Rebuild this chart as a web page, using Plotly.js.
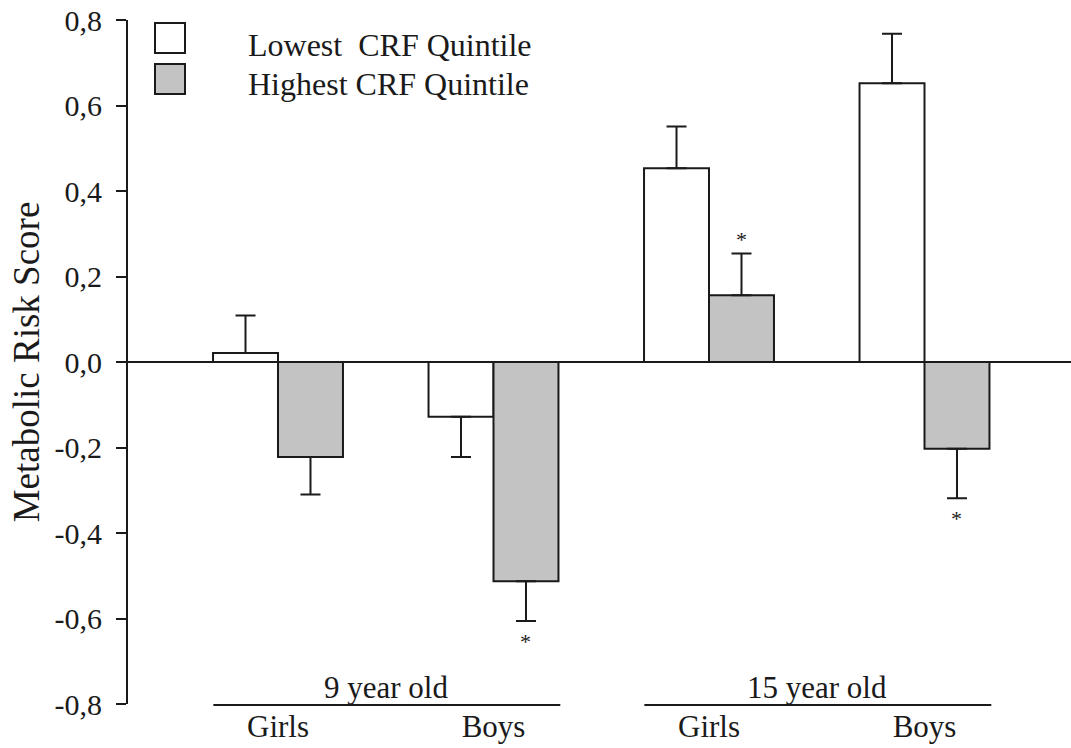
<!DOCTYPE html>
<html>
<head>
<meta charset="utf-8">
<script src="https://cdn.plot.ly/plotly-3.0.1.min.js"></script>
<style>html,body{margin:0;padding:0;background:#fff;}#chart{width:1071px;height:748px;}</style>
</head>
<body>
<div id="chart"></div>
<script>
// ---- data ----
const ageGroups = ['9 year old', '15 year old'];
const sexLabels = ['Girls', 'Boys', 'Girls', 'Boys'];
const ageOfBar = [0, 0, 1, 1];
const seriesNames = ['Lowest  CRF Quintile', 'Highest CRF Quintile'];
const lowestCRF = [0.021, -0.128, 0.453, 0.652];
const lowestSE = [0.088, 0.094, 0.098, 0.116];
const highestCRF = [-0.222, -0.513, 0.156, -0.203];
const highestSE = [0.088, 0.093, 0.098, 0.116];
const highestSig = [false, true, true, true];
const yTickVals = [-0.8, -0.6, -0.4, -0.2, 0.0, 0.2, 0.4, 0.6, 0.8];
const yTickText = ['-0,8', '-0,6', '-0,4', '-0,2', '0,0', '0,2', '0,4', '0,6', '0,8'];

// ---- layout geometry ----
const W = 1071, H = 748;
const M = {l: 128, r: 0, t: 20, b: 44};
const plotW = W - M.l - M.r, plotH = H - M.t - M.b;
const px2x = p => (p - M.l) / plotW;
const px2y = p => (H - M.b - p) / plotH;
const FONT = '"Liberation Serif", "Times New Roman", Times, serif';
const INK = '#1a1a1a';
const BARGAP = 0.397;

const xIdx = sexLabels.map((_, i) => i);
const upOnly = (vals, se) => vals.map((v, i) => v >= 0 ? se[i] : 0);
const downOnly = (vals, se) => vals.map((v, i) => v < 0 ? se[i] : 0);

const errStyle = (vals, se) => ({
  type: 'data', symmetric: false,
  array: upOnly(vals, se), arrayminus: downOnly(vals, se),
  color: INK, thickness: 2, width: 10
});

const traces = [
  {
    type: 'bar', name: seriesNames[0], x: xIdx, y: lowestCRF,
    marker: {color: '#ffffff', line: {color: INK, width: 2}},
    error_y: errStyle(lowestCRF, lowestSE), showlegend: false
  },
  {
    type: 'bar', name: seriesNames[1], x: xIdx, y: highestCRF,
    marker: {color: '#c3c3c3', line: {color: INK, width: 2}},
    error_y: errStyle(highestCRF, highestSE), showlegend: false
  }
];

const annotations = [];
const shapes = [];
const barOffset = (1 - BARGAP) / 4;

// significance asterisks
highestCRF.forEach((v, i) => {
  if (!highestSig[i]) return;
  const up = v >= 0;
  annotations.push({
    x: i + barOffset, xref: 'x', y: v + (up ? 1 : -1) * highestSE[i], yref: 'y',
    text: '*', showarrow: false, yanchor: 'middle', yshift: up ? 14 : -20,
    font: {family: FONT, size: 22, color: INK}
  });
});

// age group labels and underlines
ageGroups.forEach((g, gi) => {
  const idx = xIdx.filter(i => ageOfBar[i] === gi);
  const first = Math.min(...idx), last = Math.max(...idx);
  annotations.push({
    x: (first + last) / 2, xref: 'x', y: px2y(687), yref: 'paper',
    text: g, showarrow: false, xanchor: 'center', yanchor: 'middle',
    font: {family: FONT, size: 31, color: INK}
  });
  shapes.push({
    type: 'line', xref: 'x', yref: 'paper',
    x0: first - 0.30, x1: last + 0.31, y0: px2y(705), y1: px2y(705),
    line: {color: INK, width: 2}
  });
});

// manual legend
const legendFill = ['#ffffff', '#c3c3c3'];
const legendRows = [{top: 23, mid: 45}, {top: 64, mid: 84}];
seriesNames.forEach((n, k) => {
  const r = legendRows[k];
  shapes.push({
    type: 'rect', xref: 'paper', yref: 'paper',
    x0: px2x(155), x1: px2x(185), y0: px2y(r.top + 30), y1: px2y(r.top),
    fillcolor: legendFill[k], line: {color: INK, width: 2}
  });
  annotations.push({
    x: px2x(246), xref: 'paper', y: px2y(r.mid), yref: 'paper',
    text: n.replace(/  /g, '&nbsp; '), showarrow: false, xanchor: 'left', yanchor: 'middle',
    font: {family: FONT, size: 32, color: INK}
  });
});

// x range so that category centres are 215.5 px apart, first at 278 px
const catPx = 215.5, firstPx = 278;

const layout = {
  width: W, height: H,
  margin: M,
  paper_bgcolor: '#ffffff', plot_bgcolor: '#ffffff',
  font: {family: FONT, color: INK},
  barmode: 'group', bargap: BARGAP, bargroupgap: 0,
  showlegend: false,
  xaxis: {
    range: [(M.l - firstPx) / catPx, (W - M.r - firstPx) / catPx],
    tickvals: xIdx, ticktext: sexLabels,
    showline: false, showgrid: false, zeroline: false, ticks: '',
    tickfont: {family: FONT, size: 31, color: INK},
    ticklabelstandoff: 1, fixedrange: true
  },
  yaxis: {
    range: [-0.8, 0.8],
    tickvals: yTickVals, ticktext: yTickText,
    showline: true, linecolor: INK, linewidth: 2,
    ticks: 'outside', ticklen: 10, tickwidth: 2, tickcolor: INK,
    showgrid: false,
    zeroline: true, zerolinecolor: INK, zerolinewidth: 2,
    tickfont: {family: FONT, size: 30, color: INK},
    ticklabelstandoff: 8,
    title: {text: 'Metabolic Risk Score', font: {family: FONT, size: 37, color: INK}, standoff: 4},
    fixedrange: true
  },
  annotations: annotations,
  shapes: shapes
};

Plotly.newPlot('chart', traces, layout, {displayModeBar: false, staticPlot: true});
</script>
</body>
</html>
